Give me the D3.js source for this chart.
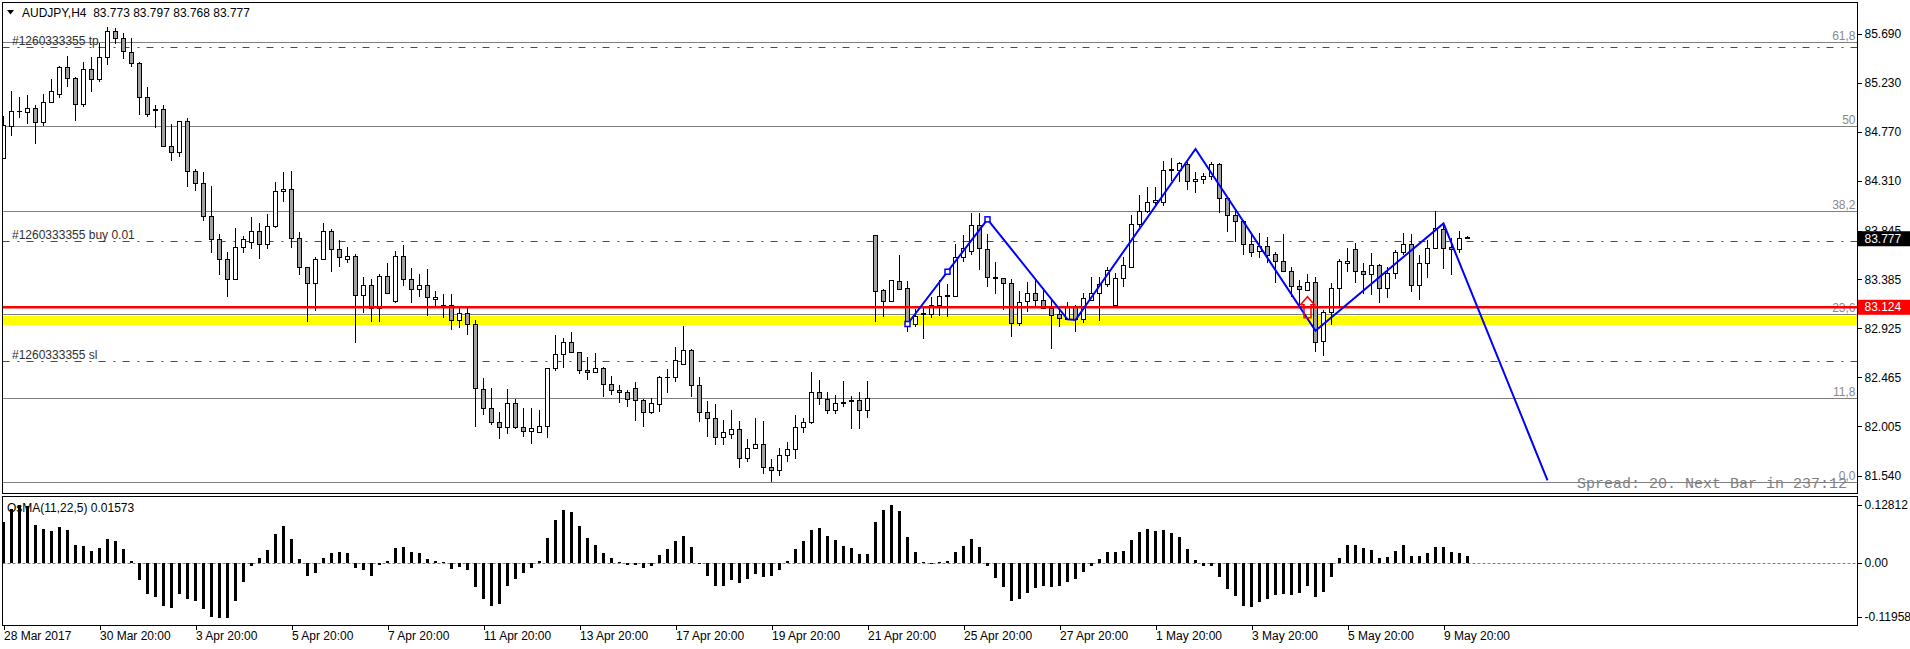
<!DOCTYPE html>
<html>
<head>
<meta charset="utf-8">
<script src="https://d3js.org/d3.v7.min.js"></script>
<style>
  body { margin: 0; background: #fff; overflow: hidden; }
  svg text { font-family: "Liberation Sans", Arial, sans-serif; font-size: 12px; }
</style>
</head>
<body>
<div id="chart"></div>
<script>
// AUDJPY H4 candles (bar 0 = 28 Mar 2017 20:00)
var opens = [
  84.523,84.820,84.958,84.952,84.993,84.858,85.046,85.121,85.378,85.274,85.027,85.359,85.259,85.471,85.716,85.647,85.518,85.415,85.096,84.983,
  84.983,84.636,84.579,84.870,84.398,84.288,83.975,83.762,83.575,83.387,83.687,83.731,83.838,83.712,83.881,84.213,84.232,83.772,83.500,83.349,
  83.575,83.831,83.662,83.575,83.600,83.237,83.331,83.111,83.412,83.177,83.600,83.387,83.293,83.331,83.199,83.145,83.139,83.004,83.070,82.958,
  82.353,82.175,82.044,81.997,82.222,81.997,81.959,81.953,82.009,82.548,82.682,82.795,82.701,82.532,82.513,82.551,82.400,82.344,82.325,82.363,
  82.253,82.137,82.213,82.463,82.466,82.588,82.720,82.391,82.137,82.081,81.903,81.931,81.978,81.706,81.800,81.837,81.621,81.590,81.728,81.790,
  81.997,82.041,82.325,82.260,82.159,82.231,82.235,82.253,82.159,83.800,83.280,83.183,83.364,83.302,82.967,83.058,83.061,83.142,83.227,83.230,
  83.593,83.652,83.893,83.668,83.405,83.396,83.349,82.973,83.177,83.255,83.186,83.114,83.052,83.011,83.130,83.005,83.192,83.249,83.339,83.139,
  83.396,83.499,83.903,84.028,84.109,84.109,84.410,84.413,84.466,84.303,84.325,84.350,84.466,84.147,83.984,83.928,83.715,83.646,83.699,83.621,
  83.552,83.458,83.318,83.286,83.355,82.801,83.073,83.302,83.537,83.668,83.458,83.436,83.521,83.302,83.443,83.640,83.715,83.333,83.537,83.677,
  83.856,83.687,83.662,83.773
];
var highs = [
  84.921,85.155,85.096,85.118,85.024,85.127,85.265,85.390,85.484,85.284,85.428,85.478,85.603,85.753,85.744,85.697,85.650,85.424,85.190,85.024,
  85.021,84.845,84.877,84.902,84.420,84.395,84.263,83.813,83.647,83.866,83.794,83.969,83.919,84.000,84.298,84.395,84.404,83.831,83.506,83.593,
  83.919,83.856,83.756,83.694,83.625,83.412,83.387,83.437,83.537,83.653,83.706,83.493,83.437,83.484,83.281,83.249,83.249,83.117,83.117,83.005,
  82.457,82.363,82.137,82.353,82.260,82.175,82.178,82.159,82.554,82.864,82.832,82.889,82.707,82.654,82.695,82.560,82.482,82.394,82.347,82.422,
  82.260,82.269,82.479,82.541,82.748,82.948,82.729,82.472,82.244,82.213,82.066,82.159,82.059,81.884,82.084,82.056,81.696,81.800,81.862,82.109,
  82.084,82.516,82.441,82.328,82.300,82.432,82.291,82.325,82.432,83.806,83.292,83.380,83.615,83.371,83.105,83.123,83.224,83.380,83.339,83.718,
  83.803,84.006,84.006,83.809,83.546,83.402,83.386,83.277,83.358,83.380,83.302,83.192,83.130,83.177,83.145,83.255,83.411,83.411,83.505,83.443,
  83.593,83.990,84.178,84.256,84.256,84.497,84.523,84.491,84.485,84.391,84.382,84.491,84.476,84.163,84.044,83.943,83.818,83.825,83.781,83.646,
  83.809,83.499,83.380,83.436,83.405,83.098,83.349,83.574,83.684,83.724,83.537,83.637,83.530,83.505,83.662,83.818,83.809,83.615,83.756,84.031,
  83.906,83.771,83.840,83.797
];
var lows = [
  84.514,84.733,84.899,84.845,84.658,84.827,85.040,85.090,85.196,84.877,85.008,85.149,85.243,85.403,85.597,85.453,85.384,84.930,84.908,84.805,
  84.633,84.501,84.539,84.257,84.219,83.938,83.631,83.428,83.218,83.387,83.631,83.675,83.575,83.669,83.866,84.116,83.684,83.428,82.990,83.087,
  83.568,83.459,83.500,83.543,82.789,83.068,82.989,82.989,83.249,83.161,83.324,83.168,83.224,83.043,83.137,83.023,82.911,82.929,82.864,82.000,
  82.112,82.019,81.884,81.931,81.978,81.909,81.840,81.947,81.900,82.526,82.557,82.692,82.497,82.441,82.504,82.285,82.300,82.222,82.184,82.059,
  81.997,82.119,82.144,82.322,82.426,82.582,82.285,82.044,81.909,81.834,81.834,81.884,81.618,81.674,81.790,81.558,81.480,81.540,81.668,81.702,
  81.940,82.025,82.209,82.119,82.119,82.191,81.978,81.978,82.081,82.989,83.036,83.173,83.286,82.895,82.936,82.829,83.020,83.045,83.036,83.230,
  83.552,83.615,83.474,83.318,83.246,83.098,82.842,82.951,83.083,83.130,83.105,82.729,82.936,83.011,82.895,82.973,83.186,82.998,83.318,83.136,
  83.318,83.499,83.881,84.006,84.062,84.075,84.313,84.303,84.225,84.194,84.282,84.319,84.006,83.834,83.740,83.615,83.593,83.584,83.537,83.355,
  83.452,83.224,83.130,83.280,82.707,82.666,82.958,83.130,83.458,83.355,83.249,83.239,83.167,83.208,83.386,83.615,83.271,83.192,83.396,83.671,
  83.480,83.427,83.630,83.768
];
var closes = [
  84.833,84.964,84.964,84.993,84.858,85.049,85.146,85.378,85.274,85.027,85.359,85.265,85.471,85.716,85.647,85.528,85.415,85.096,84.933,84.971,
  84.636,84.579,84.870,84.398,84.288,83.975,83.762,83.575,83.387,83.687,83.756,83.838,83.712,83.881,84.213,84.232,83.772,83.500,83.349,83.575,
  83.831,83.662,83.593,83.600,83.237,83.331,83.111,83.412,83.255,83.600,83.381,83.293,83.331,83.218,83.218,83.141,83.004,83.070,82.958,82.357,
  82.175,82.044,81.997,82.222,81.997,81.959,81.984,82.009,82.548,82.682,82.795,82.698,82.529,82.513,82.548,82.400,82.344,82.325,82.260,82.253,
  82.137,82.222,82.466,82.469,82.626,82.720,82.391,82.137,82.081,81.903,81.947,81.978,81.706,81.800,81.837,81.621,81.590,81.728,81.790,81.997,
  82.041,82.325,82.269,82.159,82.222,82.225,82.253,82.159,82.269,83.270,83.183,83.371,83.292,82.967,83.036,83.064,83.142,83.224,83.233,83.593,
  83.674,83.893,83.677,83.405,83.399,83.349,82.973,83.167,83.255,83.186,83.114,83.045,83.020,83.130,83.005,83.208,83.249,83.339,83.468,83.396,
  83.512,83.903,84.028,84.109,84.125,84.413,84.416,84.476,84.303,84.325,84.350,84.466,84.147,83.984,83.928,83.715,83.640,83.699,83.615,83.552,
  83.458,83.318,83.292,83.355,82.792,83.073,83.302,83.555,83.555,83.458,83.436,83.521,83.302,83.443,83.640,83.715,83.333,83.537,83.677,83.865,
  83.677,83.662,83.771,83.777
];

// OsMA(11,22,5) histogram, one value per bar
var osma = [
  0.091,0.120,0.128,0.126,0.084,0.075,0.071,0.079,0.073,0.040,0.038,0.027,0.033,0.053,0.049,0.031,0.005,-0.038,-0.069,-0.075,
  -0.095,-0.100,-0.069,-0.080,-0.084,-0.101,-0.119,-0.122,-0.122,-0.084,-0.042,-0.006,0.012,0.029,0.064,0.082,0.053,0.009,-0.028,-0.023,
  0.012,0.023,0.024,0.023,-0.011,-0.015,-0.028,-0.005,0.004,0.033,0.036,0.025,0.023,0.009,0.005,0.001,-0.013,-0.009,-0.015,-0.054,
  -0.079,-0.095,-0.091,-0.051,-0.036,-0.023,-0.011,0.005,0.056,0.095,0.116,0.112,0.082,0.055,0.040,0.023,0.012,0.003,-0.004,-0.005,
  -0.011,-0.007,0.018,0.031,0.049,0.060,0.036,-0.002,-0.029,-0.051,-0.050,-0.038,-0.045,-0.036,-0.025,-0.031,-0.028,-0.015,0.004,0.031,
  0.049,0.073,0.077,0.060,0.051,0.038,0.033,0.020,0.020,0.090,0.116,0.128,0.114,0.057,0.025,0.003,-0.002,0.002,0.004,0.025,
  0.038,0.053,0.036,-0.007,-0.034,-0.053,-0.084,-0.079,-0.067,-0.055,-0.051,-0.053,-0.052,-0.042,-0.036,-0.020,-0.006,0.009,0.025,0.025,
  0.027,0.051,0.068,0.076,0.071,0.073,0.067,0.057,0.031,0.007,-0.006,-0.007,-0.031,-0.057,-0.073,-0.095,-0.098,-0.087,-0.079,-0.071,
  -0.069,-0.071,-0.066,-0.052,-0.076,-0.064,-0.031,0.011,0.040,0.040,0.033,0.029,0.011,0.013,0.027,0.040,0.016,0.016,0.023,0.036,
  0.035,0.025,0.022,0.0157
];

var dateTickBars = [0, 12, 24, 36, 48, 60, 72, 84, 96, 108, 120, 132, 144, 156, 168, 180];
var dateTickLabels = ["28 Mar 2017", "30 Mar 20:00", "3 Apr 20:00", "5 Apr 20:00", "7 Apr 20:00", "11 Apr 20:00",
  "13 Apr 20:00", "17 Apr 20:00", "19 Apr 20:00", "21 Apr 20:00", "25 Apr 20:00", "27 Apr 20:00",
  "1 May 20:00", "3 May 20:00", "5 May 20:00", "9 May 20:00"];
var priceTicks = [85.690, 85.230, 84.770, 84.310, 83.845, 83.385, 82.925, 82.465, 82.005, 81.540];
var oscTicks = [0.12812, 0, -0.11958];
var oscTickLabels = ["0.12812", "0.00", "-0.11958"];

// Fibonacci retracement
var fibLevels = [85.612, 84.823, 84.031, 83.058, 82.269, 81.480];
var fibLabels = ["61,8", "50", "38,2", "23,6", "11,8", "0,0"];

// order lines
var orderPrices = [85.568, 83.746, 82.620];
var orderLabels = ["#1260333355 tp", "#1260333355 buy 0.01", "#1260333355 sl"];
var orderColors = ["#9b2b2b", "#1d6b1d", "#9b2b2b"];

var zoneTop = 83.042, zoneBottom = 82.958;   // yellow band
var redLevel = 83.124;
var lastPrice = 83.777;

// zigzag drawing
var zigBars = [113, 123, 133, 134, 149, 164, 180, 193];
var zigPrices = [82.967, 83.950, 83.011, 83.005, 84.610, 82.904, 83.912, 81.500];
var zigMarkBars = [113, 118, 123];
var zigMarkPrices = [82.967, 83.458, 83.950];
var arrowBar = 163, arrowPrice = 83.223;

var W = 1910, H = 649;
var left = 2.5, right = 1857.5;
var mainTop = 2.5, mainBottom = 493.5, indTop = 496.5, indBottom = 625.5;

var svg = d3.select("#chart").append("svg")
  .attr("width", W).attr("height", H);

var x = d3.scaleLinear().domain([0, 231]).range([3.5, 3.5 + 8 * 231]);
var y = d3.scaleLinear().domain([81.540, 85.690]).range([476, 34]);
var yo = d3.scaleLinear().domain([-0.11958, 0.12812]).range([617, 505]);

var defs = svg.append("defs");
defs.append("clipPath").attr("id", "clipMain").append("rect")
  .attr("x", left).attr("y", mainTop).attr("width", right - left).attr("height", mainBottom - mainTop);
defs.append("clipPath").attr("id", "clipInd").append("rect")
  .attr("x", left).attr("y", indTop).attr("width", right - left).attr("height", indBottom - indTop);

var main = svg.append("g").attr("clip-path", "url(#clipMain)");

// yellow zone
main.append("rect")
  .attr("x", left).attr("width", right - left)
  .attr("y", y(zoneTop)).attr("height", y(zoneBottom) - y(zoneTop))
  .attr("fill", "#ffff00");

// fib lines
main.selectAll(".fib").data(fibLevels).enter().append("line")
  .attr("x1", left).attr("x2", right)
  .attr("y1", function (d) { return Math.round(y(d)) + 0.5; })
  .attr("y2", function (d) { return Math.round(y(d)) + 0.5; })
  .attr("stroke", "#808080").attr("stroke-width", 1);

// order lines
main.selectAll(".ord").data(orderPrices).enter().append("line")
  .attr("x1", left).attr("x2", right)
  .attr("y1", function (d) { return Math.round(y(d)) + 0.5; })
  .attr("y2", function (d) { return Math.round(y(d)) + 0.5; })
  .attr("stroke", function (d, i) { return orderColors[i]; })
  .attr("stroke-width", 1)
  .attr("stroke-dasharray", "7,8,2,7");

// labels of fib and orders
main.selectAll(".fibl").data(fibLevels).enter().append("text")
  .attr("x", right - 2).attr("y", function (d) { return Math.round(y(d)) - 2; })
  .attr("text-anchor", "end").attr("fill", "#8a8a8a")
  .text(function (d, i) { return fibLabels[i]; });

main.selectAll(".ordl").data(orderPrices).enter().append("text")
  .attr("x", 12).attr("y", function (d) { return Math.round(y(d)) - 2; })
  .attr("fill", "#303030")
  .text(function (d, i) { return orderLabels[i]; });

// candles
var bars = opens.map(function (o, i) {
  return { i: i, o: o, h: highs[i], l: lows[i], c: closes[i] };
});
var candle = main.selectAll(".candle").data(bars).enter().append("g")
  .attr("shape-rendering", "crispEdges");
candle.append("line")
  .attr("x1", function (d) { return x(d.i); }).attr("x2", function (d) { return x(d.i); })
  .attr("y1", function (d) { return y(d.h); }).attr("y2", function (d) { return y(d.l); })
  .attr("stroke", "#000");
candle.append("rect")
  .attr("x", function (d) { return x(d.i) - 2; })
  .attr("width", 4)
  .attr("y", function (d) { return y(Math.max(d.o, d.c)); })
  .attr("height", function (d) { return Math.max(0.5, Math.abs(y(d.o) - y(d.c))); })
  .attr("fill", function (d) { return d.c >= d.o ? "#ffffff" : "#a0a0a0"; })
  .attr("stroke", "#000");

// red level line
main.append("line")
  .attr("x1", left).attr("x2", right)
  .attr("y1", y(redLevel)).attr("y2", y(redLevel))
  .attr("stroke", "#ff0000").attr("stroke-width", 2.5);

// zigzag
var zig = zigBars.map(function (b, i) { return [x(b), y(zigPrices[i])]; });
main.append("path")
  .attr("d", d3.line()(zig))
  .attr("fill", "none").attr("stroke", "#0000ff").attr("stroke-width", 2);
main.selectAll(".zm").data(zigMarkBars).enter().append("rect")
  .attr("x", function (d) { return x(d) - 2.5; })
  .attr("y", function (d, i) { return y(zigMarkPrices[i]) - 2.5; })
  .attr("width", 5).attr("height", 5)
  .attr("fill", "#fff").attr("stroke", "#0000ff").attr("stroke-width", 1.5);

// buy arrow
var ax = x(arrowBar), ay = y(arrowPrice);
main.append("path")
  .attr("d", "M" + ax + "," + ay + " l7,8 l-3.5,0 l0,13 l-7,0 l0,-13 l-3.5,0 z")
  .attr("fill", "none").attr("stroke", "#ff0000").attr("stroke-width", 1.5);

// spread text
main.append("text")
  .attr("x", 1577).attr("y", 488)
  .attr("fill", "#808080")
  .style("font-family", "'Liberation Mono', 'Courier New', monospace")
  .style("font-size", "15px")
  .style("white-space", "pre")
  .text("Spread: 20. Next Bar in 237:12");

// title
svg.append("path").attr("d", "M7,10 L14,10 L10.5,14.5 Z").attr("fill", "#000");
svg.append("text").attr("x", 22).attr("y", 17)
  .style("white-space", "pre").attr("fill", "#000")
  .text("AUDJPY,H4  83.773 83.797 83.768 83.777");

// indicator panel
var ind = svg.append("g").attr("clip-path", "url(#clipInd)");
ind.append("text").attr("x", 7).attr("y", 512).attr("fill", "#000")
  .text("OsMA(11,22,5) 0.01573");
ind.append("line")
  .attr("x1", left).attr("x2", right)
  .attr("y1", Math.round(yo(0)) + 0.5).attr("y2", Math.round(yo(0)) + 0.5)
  .attr("stroke", "#808080").attr("stroke-dasharray", "3,2");
ind.selectAll(".osc").data(osma).enter().append("rect")
  .attr("shape-rendering", "crispEdges")
  .attr("x", function (d, i) { return x(i) - 1.5; })
  .attr("width", 3)
  .attr("y", function (d) { return Math.min(yo(d), yo(0)); })
  .attr("height", function (d) { return Math.max(1, Math.abs(yo(d) - yo(0))); })
  .attr("fill", "#000");

// frames
[[mainTop, mainBottom], [indTop, indBottom]].forEach(function (p) {
  svg.append("rect")
    .attr("x", left).attr("y", p[0]).attr("width", right - left).attr("height", p[1] - p[0])
    .attr("fill", "none").attr("stroke", "#000").attr("stroke-width", 1)
    .attr("shape-rendering", "crispEdges");
});

function styleAxis(g) {
  g.select(".domain").remove();
  g.selectAll("line").attr("stroke", "#000").attr("shape-rendering", "crispEdges");
  g.selectAll("text").attr("fill", "#000")
    .style("font-family", "'Liberation Sans', Arial, sans-serif").style("font-size", "12px");
}

// price axis
var yAxisG = svg.append("g").attr("transform", "translate(" + right + ",0)")
  .call(d3.axisRight(y).tickValues(priceTicks).tickSize(4).tickPadding(3).tickFormat(d3.format(".3f")));
styleAxis(yAxisG);

// indicator axis
var oAxisG = svg.append("g").attr("transform", "translate(" + right + ",0)")
  .call(d3.axisRight(yo).tickValues(oscTicks).tickSize(4).tickPadding(3)
    .tickFormat(function (d, i) { return oscTickLabels[i]; }));
styleAxis(oAxisG);

// time axis
var xAxisG = svg.append("g").attr("transform", "translate(0," + indBottom + ")")
  .call(d3.axisBottom(x).tickValues(dateTickBars).tickSize(4)
    .tickFormat(function (d, i) { return dateTickLabels[i]; }));
styleAxis(xAxisG);
xAxisG.selectAll("text").attr("text-anchor", "start").attr("x", 0).attr("y", 6);

// price boxes on the scale
function priceBox(price, bg, offset) {
  var cy = y(price) + offset;
  svg.append("rect").attr("x", right + 0.5).attr("y", cy - 7.5).attr("width", W - right).attr("height", 15)
    .attr("fill", bg);
  svg.append("text").attr("x", right + 7).attr("y", cy).attr("dy", "0.35em")
    .attr("fill", "#fff").text(d3.format(".3f")(price));
}
priceBox(lastPrice, "#000", 1);
priceBox(redLevel, "#ff0000", 0);
</script>
</body>
</html>
